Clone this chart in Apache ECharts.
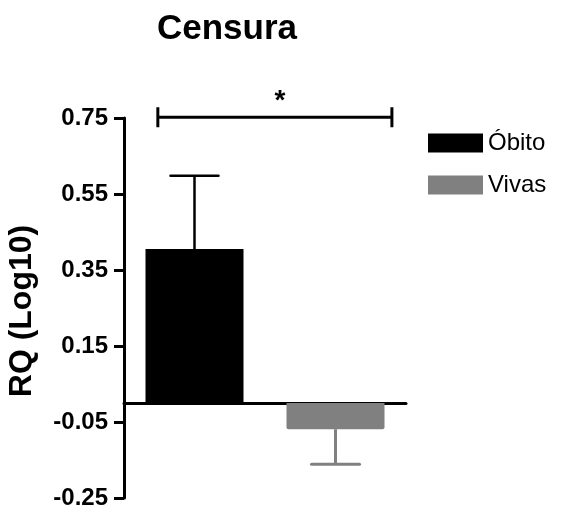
<!DOCTYPE html>
<html>
<head>
<meta charset="utf-8">
<script src="https://cdn.jsdelivr.net/npm/echarts@6/dist/echarts.min.js"></script>
<style>
html,body{margin:0;padding:0;background:#fff;}
#chart{width:561px;height:510px;}
</style>
</head>
<body>
<div id="chart"></div>
<script>
// ---- data ----
var categories = ['Óbito', 'Vivas'];
var seriesNames = ['Óbito', 'Vivas'];
var means = [0.405, -0.069];
var errorEnds = [0.598, -0.161];
var yTicks = { min: -0.25, max: 0.75, interval: 0.2 };
var titleText = 'Censura';
var yAxisTitle = 'RQ (Log10)';
var bracket = { from: 0.24, to: 1.9, level: 0.752, label: '*' };

var FONT = '"Liberation Sans", Arial, Helvetica, sans-serif';
var colors = ['#000000', '#808080'];

var chart = echarts.init(document.getElementById('chart'), null, { renderer: 'canvas' });

var barSeries = seriesNames.map(function (name, i) {
  return {
    name: name,
    type: 'bar',
    xAxisIndex: 0,
    yAxisIndex: 0,
    barWidth: 98,
    barGap: '-100%',
    itemStyle: { color: colors[i], borderRadius: i === 1 ? [0, 0, 2, 2] : 0 },
    data: categories.map(function (c, j) { return j === i ? means[j] : '-'; }),
    z: 2
  };
});

var errorSeries = {
  type: 'custom',
  xAxisIndex: 0,
  yAxisIndex: 0,
  data: means.map(function (m, i) { return [i, m, errorEnds[i]]; }),
  renderItem: function (params, api) {
    var i = api.value(0);
    var p0 = api.coord([i, api.value(1)]);
    var p1 = api.coord([i, api.value(2)]);
    var half = 24;
    var col = colors[i];
    var lw = i === 0 ? 2.5 : 3;
    return {
      type: 'group',
      children: [
        { type: 'line', shape: { x1: p0[0], y1: p0[1], x2: p1[0], y2: p1[1] }, style: { stroke: col, lineWidth: lw } },
        { type: 'line', shape: { x1: p1[0] - half, y1: p1[1], x2: p1[0] + half, y2: p1[1] }, style: { stroke: col, lineWidth: lw, lineCap: 'round' } }
      ]
    };
  },
  z: 3,
  silent: true
};

var bracketSeries = {
  type: 'custom',
  xAxisIndex: 1,
  yAxisIndex: 0,
  data: [[bracket.from, bracket.to, bracket.level]],
  renderItem: function (params, api) {
    var a = api.coord([api.value(0), api.value(2)]);
    var b = api.coord([api.value(1), api.value(2)]);
    var h = 10;
    var st = { stroke: '#000', lineWidth: 3 };
    return {
      type: 'group',
      children: [
        { type: 'line', shape: { x1: a[0], y1: a[1], x2: b[0], y2: b[1] }, style: st },
        { type: 'line', shape: { x1: a[0], y1: a[1] - h, x2: a[0], y2: a[1] + h }, style: st },
        { type: 'line', shape: { x1: b[0], y1: b[1] - h, x2: b[0], y2: b[1] + h }, style: st },
        { type: 'text', style: { text: bracket.label, x: (a[0] + b[0]) / 2 + 5, y: a[1] - 2, align: 'center', verticalAlign: 'bottom', font: 'bold 28px ' + FONT, fill: '#000' } }
      ]
    };
  },
  silent: true
};

chart.setOption({
  animation: false,
  backgroundColor: '#fff',
  title: {
    text: titleText,
    left: 152,
    top: 7,
    textStyle: { fontFamily: FONT, fontWeight: 'bold', fontSize: 35, color: '#000' }
  },
  legend: {
    orient: 'vertical',
    left: 428,
    top: 131,
    padding: 0,
    itemWidth: 55,
    itemHeight: 19,
    itemGap: 18,
    icon: 'rect',
    data: seriesNames,
    textStyle: { fontFamily: FONT, fontSize: 24, color: '#000' },
    selectedMode: false
  },
  grid: { left: 124, top: 118, width: 282, bottom: 12, containLabel: false, outerBoundsMode: 'none' },
  xAxis: [
    {
      type: 'category',
      data: categories,
      axisLine: { onZero: true, lineStyle: { color: '#000', width: 3 } },
      axisTick: { show: false },
      axisLabel: { show: false },
      splitLine: { show: false }
    },
    {
      type: 'value',
      min: 0,
      max: 2,
      show: false
    }
  ],
  yAxis: {
    type: 'value',
    min: yTicks.min,
    max: yTicks.max,
    interval: yTicks.interval,
    name: yAxisTitle,
    nameLocation: 'middle',
    nameRotate: 90,
    nameGap: 86,
    nameTextStyle: { fontFamily: FONT, fontWeight: 'bold', fontSize: 32, color: '#000', padding: [0, 6, 0, 0] },
    axisLine: { show: true, onZero: false, lineStyle: { color: '#000', width: 3 } },
    axisTick: { show: true, inside: false, length: 10, lineStyle: { color: '#000', width: 3 } },
    axisLabel: {
      margin: 16,
      fontFamily: FONT,
      fontWeight: 'bold',
      fontSize: 24,
      color: '#000',
      formatter: function (v) { return v.toFixed(2); }
    },
    splitLine: { show: false }
  },
  series: barSeries.concat([errorSeries, bracketSeries])
});
</script>
</body>
</html>
